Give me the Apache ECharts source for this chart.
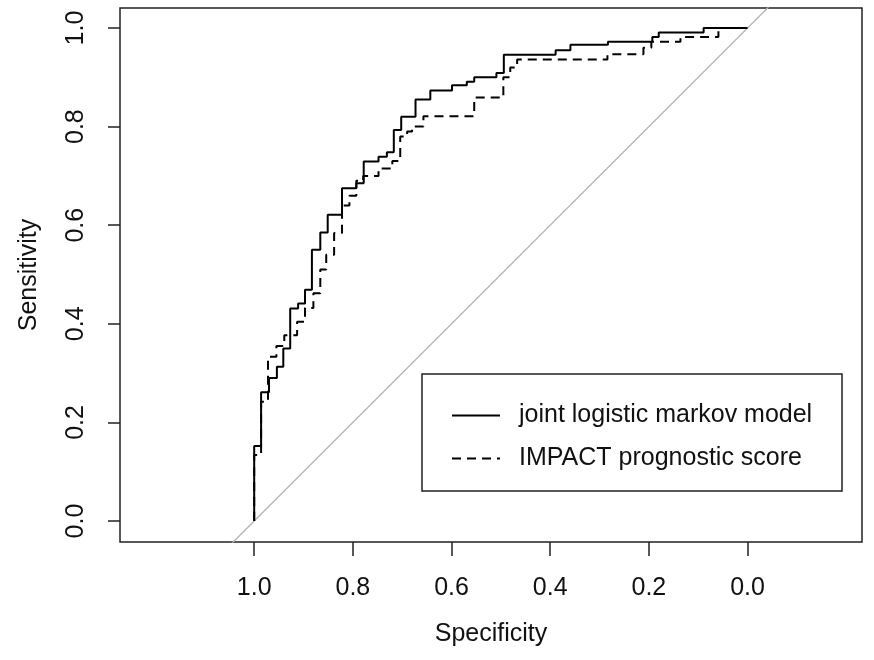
<!DOCTYPE html>
<html>
<head>
<meta charset="utf-8">
<script src="https://cdn.jsdelivr.net/npm/echarts@6/dist/echarts.min.js"></script>
<style>
  html, body { margin: 0; padding: 0; background: #fff; }
  #chart { width: 874px; height: 660px; }
</style>
</head>
<body>
<div id="chart"></div>
<script>
// ROC curves. x = specificity (1 -> 0), y = sensitivity
const tickValues = [0, 0.2, 0.4, 0.6, 0.8, 1.0]

// joint logistic markov model (solid)
const jointSpec = [1.000, 0.986, 0.970, 0.954, 0.941, 0.927, 0.911, 0.897, 0.883, 0.866, 0.851, 0.822, 0.793, 0.778, 0.748, 0.731,
  0.717, 0.702, 0.673, 0.643, 0.599, 0.569, 0.554, 0.509, 0.494, 0.389, 0.359, 0.283, 0.193, 0.180, 0.089, 0.000]
const jointSens = [0.000, 0.152, 0.261, 0.290, 0.313, 0.350, 0.431, 0.441, 0.469, 0.550, 0.585, 0.621, 0.675, 0.685, 0.729, 0.739,
  0.748, 0.793, 0.820, 0.855, 0.873, 0.884, 0.891, 0.900, 0.909, 0.946, 0.955, 0.966, 0.972, 0.982, 0.991, 1.000]

// IMPACT prognostic score (dashed)
const impactSpec = [1.000, 0.986, 0.972, 0.955, 0.939, 0.913, 0.897, 0.880, 0.866, 0.854, 0.838, 0.822, 0.807, 0.793, 0.779, 0.748,
  0.720, 0.704, 0.690, 0.680, 0.657, 0.554, 0.495, 0.481, 0.467, 0.284, 0.211, 0.195, 0.136, 0.059, 0.000]
const impactSens = [0.000, 0.134, 0.242, 0.333, 0.355, 0.377, 0.404, 0.432, 0.462, 0.510, 0.540, 0.584, 0.640, 0.660, 0.690, 0.700,
  0.715, 0.730, 0.780, 0.790, 0.800, 0.821, 0.859, 0.900, 0.920, 0.936, 0.947, 0.960, 0.972, 0.982, 1.000]

// chance line sens = 1 - spec
const diagSpec = [1.2, -0.2]

const seriesNames = ['joint logistic markov model', 'IMPACT prognostic score']

const font = 'Liberation Sans'
const fs = 25
const zip = (xs, ys) => xs.map((x, i) => [x, ys[i]])

const chart = echarts.init(document.getElementById('chart'), null, { renderer: 'canvas' })

chart.setOption({
  animation: false,
  backgroundColor: '#fff',
  textStyle: { fontFamily: font, color: '#000' },
  grid: {
    left: 120, right: 12, top: 8, bottom: 118,
    show: true, borderColor: '#222', borderWidth: 1.5,
    containLabel: false, outerBoundsMode: 'none'
  },
  xAxis: {
    type: 'value',
    inverse: true,
    min: -0.232,
    max: 1.272,
    name: 'Specificity',
    nameLocation: 'middle',
    nameGap: 80,
    nameTextStyle: { fontSize: fs, color: '#111', fontFamily: font },
    axisLine: { show: false, onZero: false },
    splitLine: { show: false },
    axisTick: { show: true, length: 14, customValues: tickValues, lineStyle: { color: '#222', width: 1.5 } },
    axisLabel: {
      customValues: tickValues, margin: 34, fontSize: fs, color: '#111', fontFamily: font,
      formatter: v => v.toFixed(1)
    }
  },
  yAxis: {
    type: 'value',
    min: -0.0426,
    max: 1.0406,
    name: 'Sensitivity',
    nameLocation: 'middle',
    nameRotate: 90,
    nameGap: 78,
    nameTextStyle: { fontSize: fs, color: '#111', fontFamily: font },
    axisLine: { show: false, onZero: false },
    splitLine: { show: false },
    axisTick: { show: true, length: 12, customValues: tickValues, lineStyle: { color: '#222', width: 1.5 } },
    axisLabel: {
      customValues: tickValues, rotate: 90, margin: 31, fontSize: fs, color: '#111', fontFamily: font,
      formatter: v => v.toFixed(1)
    }
  },
  legend: {
    data: seriesNames,
    orient: 'vertical',
    left: 446,
    top: 398,
    itemWidth: 48,
    itemHeight: 24,
    itemGap: 18,
    selectedMode: false,
    itemStyle: { opacity: 0 },
    textStyle: { fontSize: fs, color: '#111', fontFamily: font, padding: [0, 0, 0, 14] }
  },
  graphic: [{
    type: 'rect',
    shape: { x: 422, y: 374, width: 420, height: 117 },
    style: { fill: 'none', stroke: '#222', lineWidth: 1.5 },
    z: 10
  }],
  series: [
    {
      name: 'chance',
      type: 'line',
      data: diagSpec.map(s => [s, 1 - s]),
      symbol: 'none',
      silent: true,
      lineStyle: { color: '#b3b3b3', width: 1.3 },
      z: 1
    },
    {
      name: seriesNames[0],
      type: 'line',
      step: 'start',
      data: zip(jointSpec, jointSens),
      symbol: 'none',
      lineStyle: { color: '#000', width: 2, type: 'solid' },
      itemStyle: { color: '#000' },
      z: 3
    },
    {
      name: seriesNames[1],
      type: 'line',
      step: 'start',
      data: zip(impactSpec, impactSens),
      symbol: 'none',
      lineStyle: { color: '#000', width: 2, type: [9, 6] },
      itemStyle: { color: '#000' },
      z: 2
    }
  ]
})
</script>
</body>
</html>
